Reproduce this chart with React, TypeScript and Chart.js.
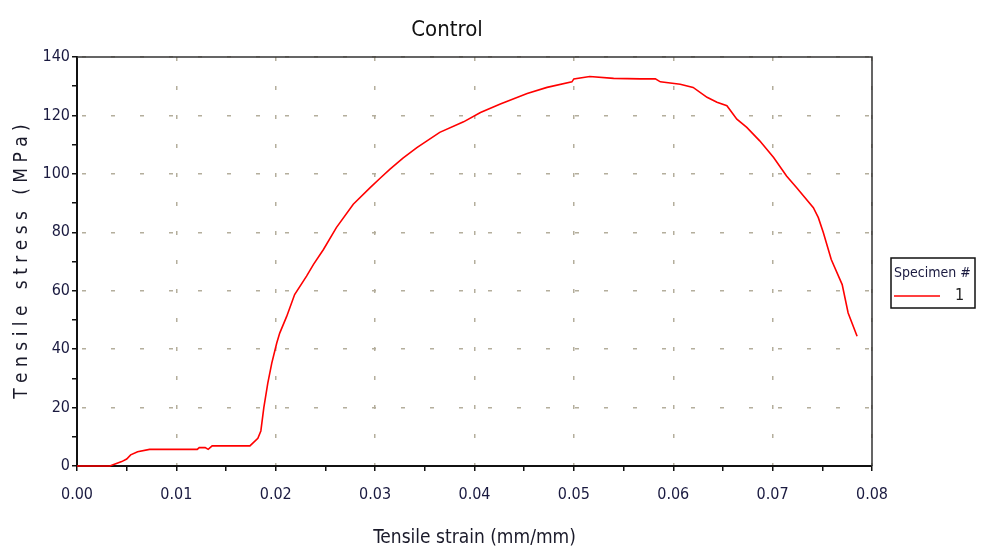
import { useEffect, useRef } from "react";
import Chart from "chart.js/auto";

const chartTitle = "Control";
const xTitle = "Tensile strain (mm/mm)";
const yTitle = "T e n s i l e   s t r e s s   ( M P a )";
const legendTitle = "Specimen #";
const specimenLabel = "1";

// strain (mm/mm) and stress (MPa)
const strain = [
  0, 0.0033, 0.0045, 0.005, 0.0054, 0.0061, 0.0073, 0.0121, 0.0123, 0.0129,
  0.0132, 0.0136, 0.0174, 0.0182, 0.0185, 0.0188, 0.0192, 0.0196, 0.0201,
  0.0204, 0.0211, 0.0219, 0.0231, 0.0238, 0.0248, 0.0261, 0.0278, 0.0295,
  0.0305, 0.0315, 0.0328, 0.0342, 0.0365, 0.0389, 0.0406, 0.0426, 0.0453,
  0.0473, 0.0498, 0.05, 0.0516, 0.054, 0.0567, 0.0582, 0.0587, 0.0607, 0.062,
  0.0634, 0.0644, 0.0654, 0.0664, 0.0674, 0.0687, 0.0701, 0.0714, 0.0724,
  0.0741, 0.0746, 0.0751, 0.0759, 0.077, 0.0776, 0.0785,
];
const stress = [
  0, 0, 1.5, 2.4, 3.8, 4.9, 5.7, 5.7, 6.3, 6.3, 5.7, 6.9, 6.9, 9.5, 12, 20,
  28.4, 35.2, 42.1, 45.5, 51.2, 58.7, 65, 69, 74.1, 81.6, 89.6, 95.3, 98.5,
  101.6, 105.4, 109.0, 114.2, 117.8, 121.0, 123.9, 127.5, 129.6, 131.5, 132.5,
  133.3, 132.7, 132.5, 132.5, 131.5, 130.7, 129.6, 126.2, 124.5, 123.3, 118.7,
  115.9, 111.3, 105.6, 99.3, 95.3, 88.4, 85.0, 79.9, 70.7, 62.1, 52.4, 44.4,
];

const FONT = "'Liberation Sans Narrow', 'DejaVu Sans Condensed', sans-serif";
const GRID = "#b4ae9c";

const frameAndLegend = {
  id: "frameAndLegend",
  afterDraw(chart: any) {
    const { ctx, chartArea } = chart;
    ctx.save();
    // title
    ctx.font = `22px ${FONT}`;
    ctx.fillStyle = "#111";
    ctx.textAlign = "center";
    ctx.textBaseline = "middle";
    ctx.fillText(chartTitle, 447, 30);

    // top and right frame
    ctx.strokeStyle = "#333";
    ctx.lineWidth = 1.5;
    ctx.beginPath();
    ctx.moveTo(chartArea.left, chartArea.top);
    ctx.lineTo(chartArea.right, chartArea.top);
    ctx.lineTo(chartArea.right, chartArea.bottom);
    ctx.stroke();

    // legend box
    const bx = 891, by = 258, bw = 84, bh = 50;
    ctx.fillStyle = "#fff";
    ctx.fillRect(bx, by, bw, bh);
    ctx.strokeStyle = "#111";
    ctx.lineWidth = 1.5;
    ctx.strokeRect(bx, by, bw, bh);
    ctx.font = `14px ${FONT}`;
    ctx.textAlign = "left";
    ctx.fillStyle = "#1a1a40";
    ctx.fillText(legendTitle, bx + 3, by + 15);
    ctx.strokeStyle = chart.data.datasets[0].borderColor;
    ctx.beginPath();
    ctx.moveTo(bx + 3, by + 38);
    ctx.lineTo(bx + 49, by + 38);
    ctx.stroke();
    ctx.font = `16px ${FONT}`;
    ctx.fillStyle = "#222";
    ctx.fillText(chart.data.datasets[0].label, bx + 64, by + 38);
    ctx.restore();
  },
};

const App = () => {
  const chartRef = useRef<HTMLCanvasElement | null>(null);

  useEffect(() => {
    if (!chartRef.current) return;
    const ctx = chartRef.current.getContext("2d");
    if (!ctx) return;

    const chartInstance = new Chart(ctx, {
      type: "line",
      data: {
        datasets: [
          {
            label: specimenLabel,
            data: strain.map((x, i) => ({ x, y: stress[i] })),
            borderColor: "rgb(255, 0, 0)",
            borderWidth: 1.6,
            pointRadius: 0,
            tension: 0,
            clip: 4,
          },
        ],
      },
      options: {
        responsive: false,
        animation: false,
        layout: { padding: { left: 0, right: 117, top: 57, bottom: 0 } },
        plugins: {
          legend: { display: false },
          tooltip: { enabled: false },
          title: { display: false },
        },
        scales: {
          x: {
            type: "linear",
            min: 0,
            max: 0.08,
            afterFit: (scale: any) => {
              scale.height = 86;
            },
            ticks: {
              stepSize: 0.005,
              autoSkip: false,
              maxRotation: 0,
              padding: 14,
              color: "#1a1a40",
              font: { family: FONT, size: 16 },
              callback: (v: any) =>
                Math.round(Number(v) / 0.005) % 2 === 0 ? Number(v).toFixed(2) : "",
            },
            grid: {
              color: (c: any) =>
                c.tick && Math.round(c.tick.value / 0.005) % 2 === 0 ? GRID : "transparent",
              lineWidth: 1.5,
              tickColor: "#111",
              tickLength: 5,
              tickWidth: 1.5,
            },
            border: { color: "#111", width: 2, dash: [4, 25] },
            title: {
              display: true,
              text: xTitle,
              color: "#1a1a2a",
              font: { family: FONT, size: 19 },
              padding: { top: 0, bottom: 3 },
            },
          },
          y: {
            min: 0,
            max: 140,
            afterFit: (scale: any) => {
              scale.width = 77;
            },
            ticks: {
              stepSize: 10,
              autoSkip: false,
              padding: 2,
              color: "#1a1a40",
              font: { family: FONT, size: 16 },
              callback: (v: any) => (Number(v) % 20 === 0 ? String(v) : ""),
            },
            grid: {
              color: (c: any) =>
                c.tick && c.tick.value % 20 === 0 ? GRID : "transparent",
              lineWidth: 1.5,
              tickColor: "#111",
              tickLength: 5,
              tickWidth: 1.5,
            },
            border: { color: "#111", width: 2, dash: [4, 25], dashOffset: -4 },
            title: {
              display: true,
              text: yTitle,
              color: "#1a1a2a",
              font: { family: FONT, size: 19 },
              padding: { top: 11, bottom: 0 },
            },
          },
        },
      },
      plugins: [frameAndLegend],
    });

    return () => {
      chartInstance.destroy();
    };
  }, []);

  return (
    <div style={{ position: "absolute", left: 0, top: 0, width: 989, height: 552, background: "#fff" }}>
      <canvas ref={chartRef} width={989} height={552}></canvas>
    </div>
  );
};

export default App;
